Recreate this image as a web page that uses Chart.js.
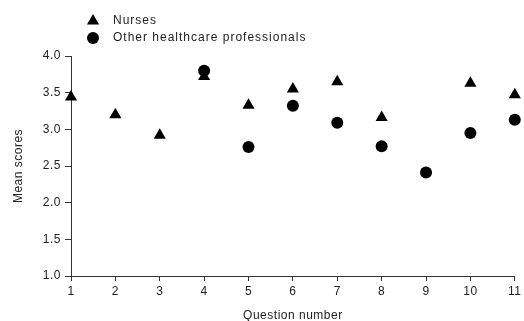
<!DOCTYPE html>
<html>
<head>
<meta charset="utf-8">
<script src="https://cdn.jsdelivr.net/npm/chart.js@4/dist/chart.umd.min.js"></script>
<style>
html,body{margin:0;padding:0;background:#fff;}
#wrap{width:524px;height:321px;position:relative;}
</style>
</head>
<body>
<div id="wrap"><canvas id="c" width="524" height="321"></canvas></div>
<script>
const questions = [1,2,3,4,5,6,7,8,9,10,11];
const nurses = [3.44,3.20,2.92,3.72,3.33,3.55,3.65,3.16,null,3.63,3.47];
const others = [null,null,null,3.80,2.76,3.32,3.09,2.77,2.41,2.95,3.13];
const yTicks = [1.0,1.5,2.0,2.5,3.0,3.5,4.0];
const seriesNames = ['Nurses','Other healthcare professionals'];

function toPts(vals){
  const out=[];
  questions.forEach((q,i)=>{ if(vals[i]!==null) out.push({x:q,y:vals[i]}); });
  return out;
}

const textColor = '#222';
const axisColor = '#333';
const fam = '"Liberation Sans", Arial, sans-serif';

const spacingPlugin = {
  id:'spacing',
  beforeDraw(chart){ chart.ctx.letterSpacing = '0.5px'; }
};

const legendPlugin = {
  id:'customLegend',
  afterDraw(chart){
    const ctx = chart.ctx;
    ctx.save();
    chart.data.datasets.forEach((ds,i)=>{
      const cy = 21 + i*17;
      ctx.fillStyle = '#000';
      ctx.strokeStyle = '#000';
      Chart.helpers.drawPoint(ctx,{pointStyle:ds.pointStyle,radius:ds.pointRadius,rotation:0,borderWidth:0},93,cy);
      ctx.font = '12px ' + fam;
      ctx.letterSpacing = '1px';
      ctx.fillStyle = textColor;
      ctx.textBaseline = 'middle';
      ctx.textAlign = 'left';
      ctx.fillText(ds.label, 113, cy);
    });
    ctx.restore();
  }
};

new Chart(document.getElementById('c'),{
  type:'scatter',
  data:{
    datasets:[
      {label:seriesNames[0],data:toPts(nurses),pointStyle:'triangle',pointRadius:7,backgroundColor:'#000',borderColor:'#000',borderWidth:0,clip:false},
      {label:seriesNames[1],data:toPts(others),pointStyle:'circle',pointRadius:6,backgroundColor:'#000',borderColor:'#000',borderWidth:0,clip:false}
    ]
  },
  options:{
    responsive:false,
    animation:false,
    layout:{padding:{top:56,right:8,left:0,bottom:0}},
    plugins:{legend:{display:false},tooltip:{enabled:false}},
    scales:{
      x:{
        type:'linear',min:1,max:11,
        afterBuildTicks(s){ s.ticks = questions.map(v=>({value:v})); },
        afterFit(s){ s.height = 45; },
        grid:{drawOnChartArea:false,drawTicks:true,tickLength:5,color:axisColor},
        border:{color:axisColor,width:1},
        ticks:{color:textColor,font:{family:fam,size:12},padding:3,maxRotation:0},
        title:{display:true,text:'Question number',color:textColor,font:{family:fam,size:12},padding:{top:0,bottom:-2}}
      },
      y:{
        min:1,max:4,
        afterBuildTicks(s){ s.ticks = yTicks.map(v=>({value:v})); },
        afterFit(s){ s.width = 71; },
        grid:{drawOnChartArea:false,drawTicks:true,tickLength:6,color:axisColor},
        border:{color:axisColor,width:1},
        ticks:{color:textColor,font:{family:fam,size:12},padding:4,callback:v=>v.toFixed(1)},
        title:{display:true,text:'Mean scores',color:textColor,font:{family:fam,size:12},padding:{top:11,bottom:0}}
      }
    }
  },
  plugins:[spacingPlugin, legendPlugin]
});
</script>
</body>
</html>
